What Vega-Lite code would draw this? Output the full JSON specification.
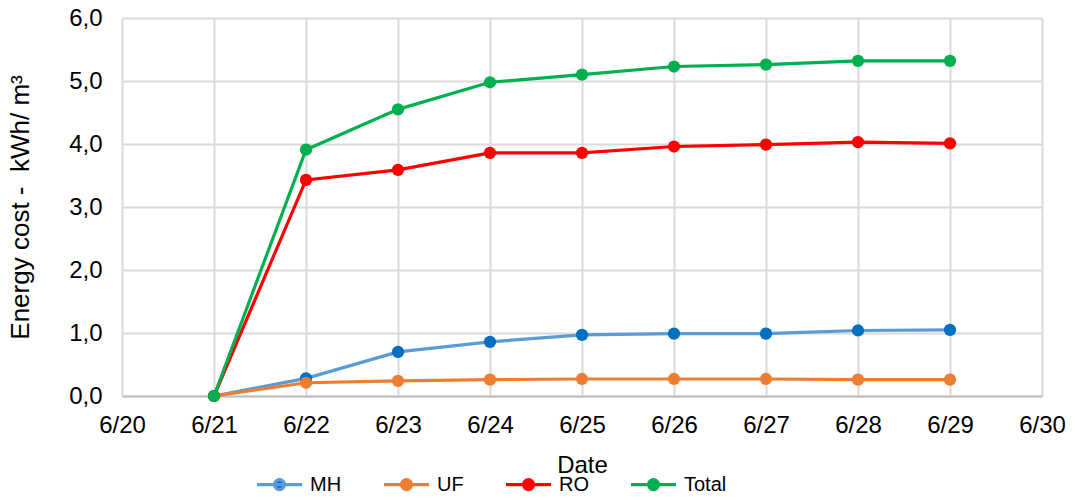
{
  "$schema": "https://vega.github.io/schema/vega-lite/v6.json",
  "width": 920,
  "height": 378,
  "autosize": {"type": "none"},
  "padding": {"left": 122, "top": 18, "right": 33, "bottom": 104},
  "background": "white",
  "config": {
    "view": {"stroke": null},
    "font": "Liberation Sans",
    "axis": {"labelFont": "Liberation Sans", "titleFont": "Liberation Sans", "labelColor": "#000000", "titleColor": "#000000", "titleFontWeight": "normal", "gridColor": "#d9d9d9", "gridWidth": 2, "ticks": false}
  },
  "data": {"values": [
    {"day": 21, "series": "MH", "value": 0.0},
    {"day": 22, "series": "MH", "value": 0.28},
    {"day": 23, "series": "MH", "value": 0.70},
    {"day": 24, "series": "MH", "value": 0.86},
    {"day": 25, "series": "MH", "value": 0.97},
    {"day": 26, "series": "MH", "value": 0.99},
    {"day": 27, "series": "MH", "value": 0.99},
    {"day": 28, "series": "MH", "value": 1.04},
    {"day": 29, "series": "MH", "value": 1.05},
    {"day": 21, "series": "UF", "value": 0.0},
    {"day": 22, "series": "UF", "value": 0.21},
    {"day": 23, "series": "UF", "value": 0.24},
    {"day": 24, "series": "UF", "value": 0.26},
    {"day": 25, "series": "UF", "value": 0.27},
    {"day": 26, "series": "UF", "value": 0.27},
    {"day": 27, "series": "UF", "value": 0.27},
    {"day": 28, "series": "UF", "value": 0.26},
    {"day": 29, "series": "UF", "value": 0.26},
    {"day": 21, "series": "RO", "value": 0.0},
    {"day": 22, "series": "RO", "value": 3.43},
    {"day": 23, "series": "RO", "value": 3.59},
    {"day": 24, "series": "RO", "value": 3.86},
    {"day": 25, "series": "RO", "value": 3.86},
    {"day": 26, "series": "RO", "value": 3.96},
    {"day": 27, "series": "RO", "value": 3.99},
    {"day": 28, "series": "RO", "value": 4.03},
    {"day": 29, "series": "RO", "value": 4.01},
    {"day": 21, "series": "Total", "value": 0.0},
    {"day": 22, "series": "Total", "value": 3.91},
    {"day": 23, "series": "Total", "value": 4.55},
    {"day": 24, "series": "Total", "value": 4.98},
    {"day": 25, "series": "Total", "value": 5.10},
    {"day": 26, "series": "Total", "value": 5.23},
    {"day": 27, "series": "Total", "value": 5.26},
    {"day": 28, "series": "Total", "value": 5.32},
    {"day": 29, "series": "Total", "value": 5.32}
  ]},
  "encoding": {
    "x": {
      "field": "day", "type": "quantitative",
      "scale": {"domain": [20, 30], "nice": false, "zero": false},
      "axis": {"values": [20,21,22,23,24,25,26,27,28,29,30], "labelExpr": "'6/' + datum.value", "labelFontSize": 24, "labelPadding": 17, "title": "Date", "titleFontSize": 24, "titlePadding": 16, "domainColor": "#bfbfbf", "domainWidth": 2, "labelFlush": false}
    },
    "y": {
      "field": "value", "type": "quantitative",
      "scale": {"domain": [0, 6], "nice": false},
      "axis": {"values": [0,1,2,3,4,5,6], "labelExpr": "replace(format(datum.value, '.1f'), '.', ',')", "labelFontSize": 24, "labelPadding": 20, "title": "Energy cost -\u00a0 kWh/ m³", "titleFontSize": 26, "titlePadding": 35, "domain": false}
    }
  },
  "layer": [
    {
      "mark": {"type": "line", "strokeWidth": 3.2},
      "encoding": {
        "stroke": {"field": "series", "type": "nominal", "sort": ["MH", "UF", "RO", "Total"],
          "scale": {"domain": ["MH", "UF", "RO", "Total"], "range": ["#5B9BD5", "#ED7D31", "#FF0000", "#00B050"]}},
        "order": {"field": "day"}
      }
    },
    {
      "mark": {"type": "point", "filled": true, "opacity": 1, "size": 150},
      "encoding": {
        "fill": {"field": "series", "type": "nominal", "sort": ["MH", "UF", "RO", "Total"],
          "scale": {"domain": ["MH", "UF", "RO", "Total"], "range": ["#0070C0", "#ED7D31", "#FF0000", "#00B050"]},
          "legend": {
            "title": null, "orient": "none", "direction": "horizontal", "columns": 4,
            "legendX": 133, "legendY": 442, "padding": 0,
            "symbolType": "M-1,0H1M0.22,0A0.22,0.22 0 1,1 -0.22,0A0.22,0.22 0 1,1 0.22,0",
            "symbolSize": 2025, "symbolStrokeWidth": 3.2, "symbolOpacity": 1,
            "labelFontSize": 20, "labelFont": "Liberation Sans", "labelColor": "#000000", "labelOffset": 6,
            "columnPadding": 35
          }
        }
      }
    }
  ]
}
